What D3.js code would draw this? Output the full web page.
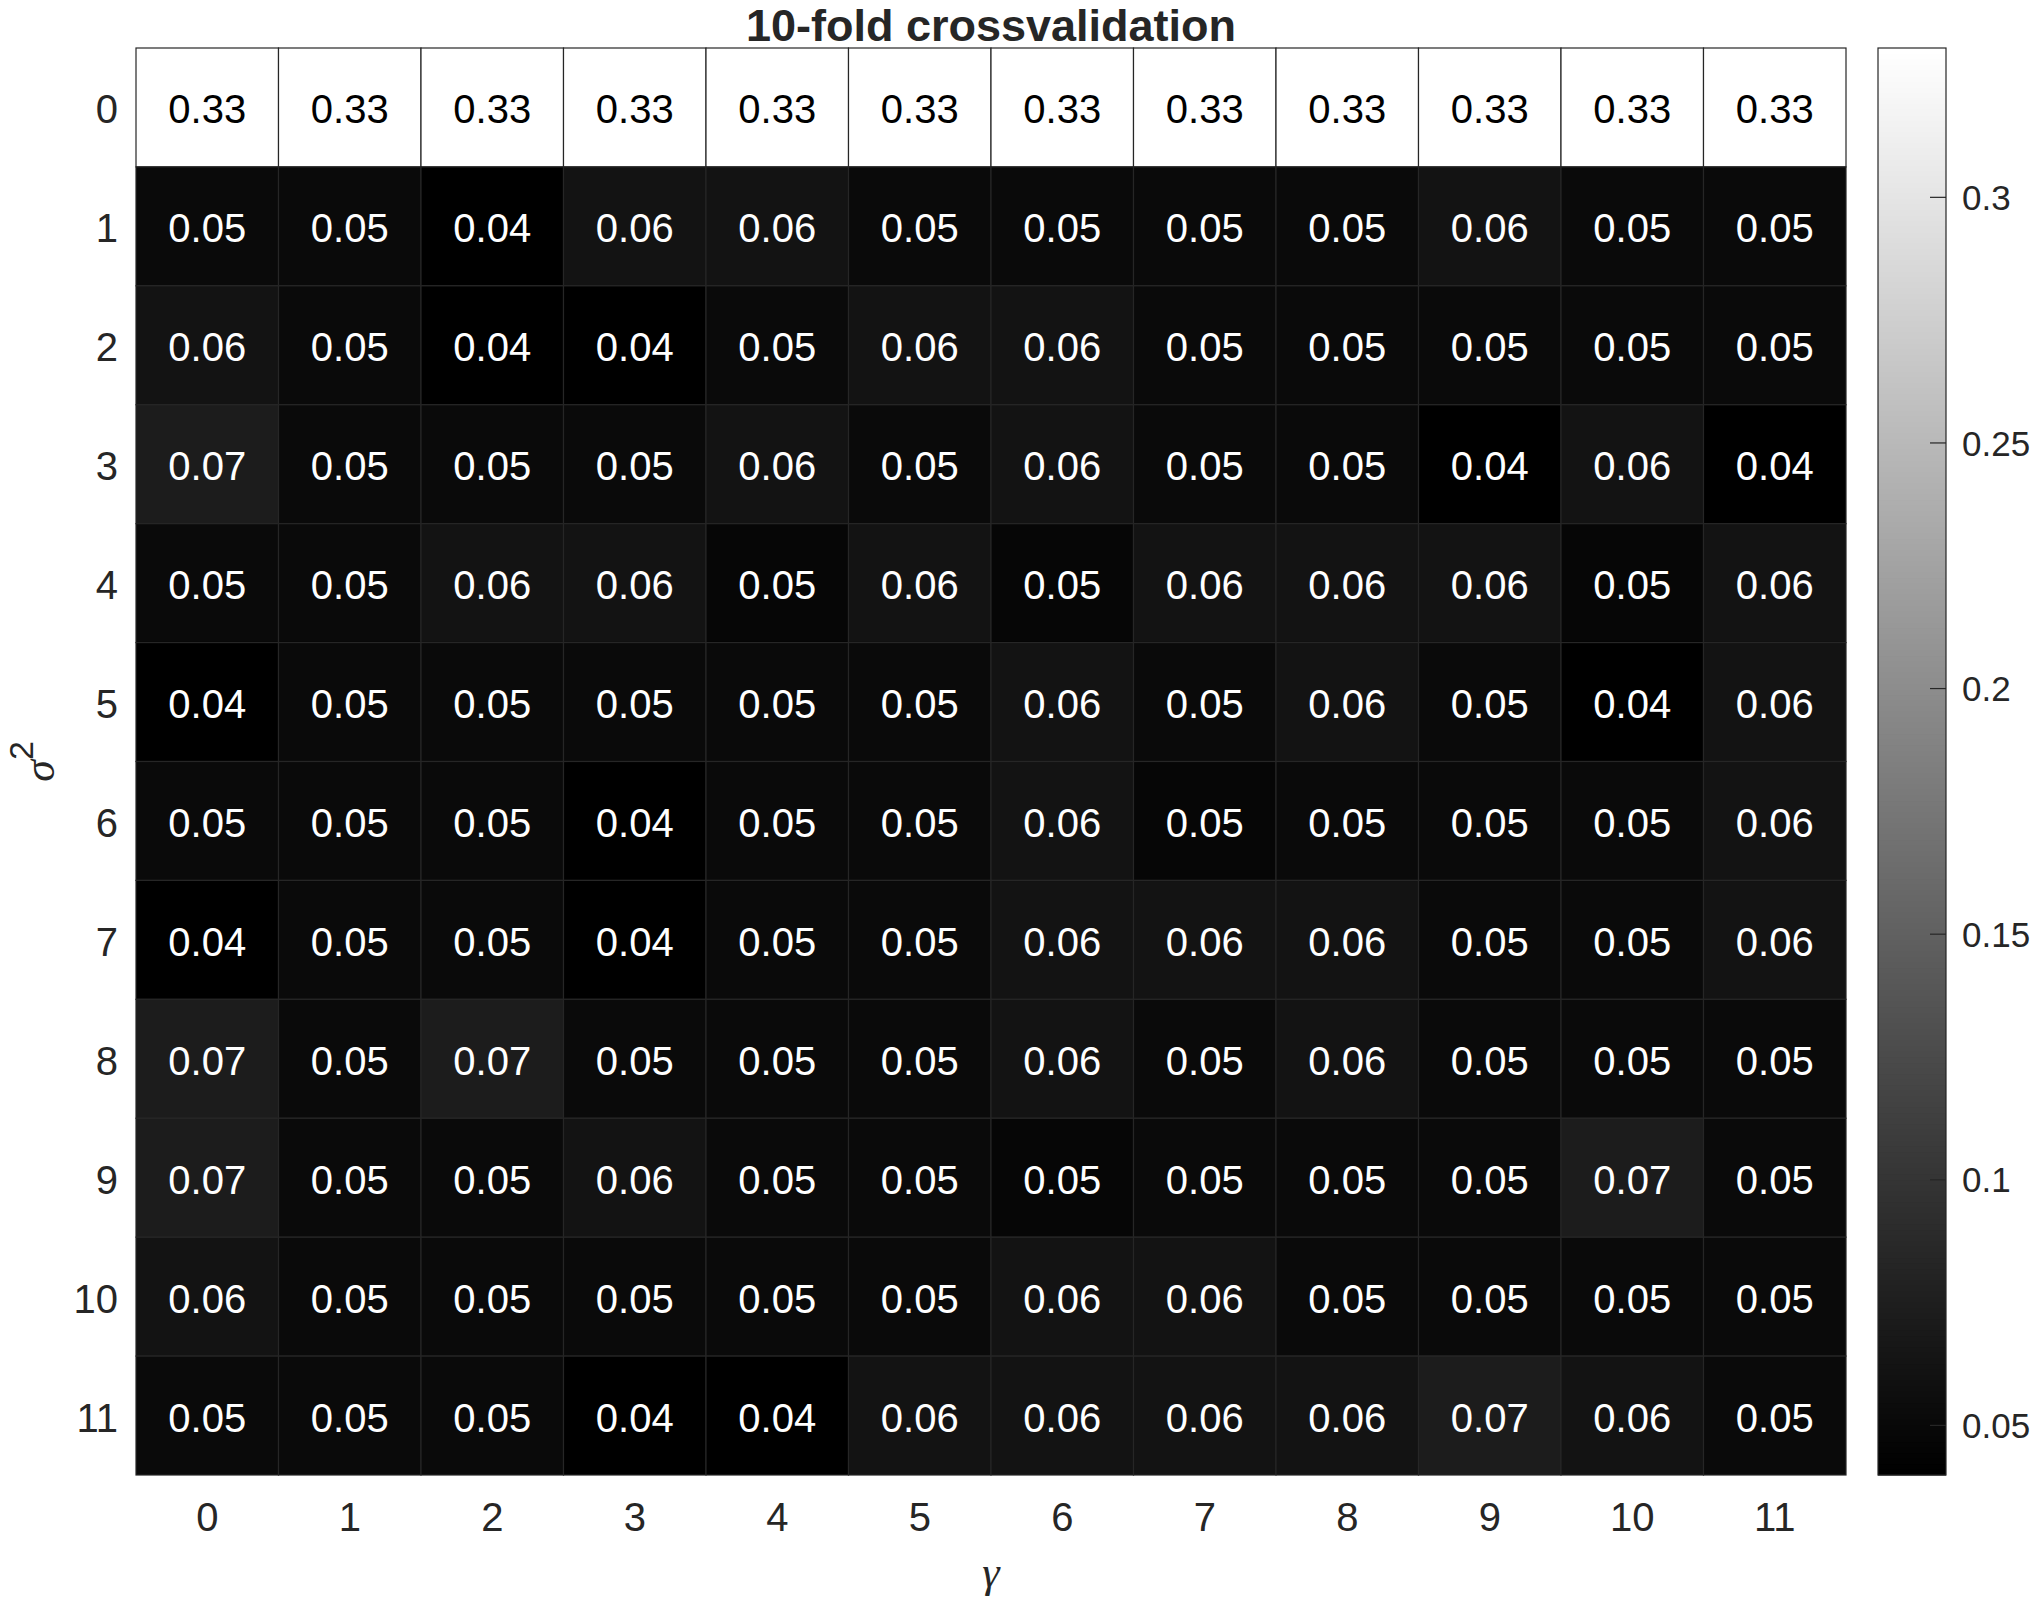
<!DOCTYPE html>
<html>
<head>
<meta charset="utf-8">
<script src="https://cdn.jsdelivr.net/npm/d3@7"></script>
<style>
  body { margin: 0; background: #fff; }
  svg text { font-family: "Liberation Sans", Arial, Helvetica, sans-serif; }
</style>
</head>
<body>
<svg id="chart" width="2035" height="1601"></svg>
<script>
// Tick labels for both axes
var gammaLabels = ['0', '1', '2', '3', '4', '5', '6', '7', '8', '9', '10', '11'];
var sigmaLabels = ['0', '1', '2', '3', '4', '5', '6', '7', '8', '9', '10', '11'];

// Cross-validation error, one array per sigma^2 row
var row0  = [0.3303, 0.3303, 0.3303, 0.3303, 0.3303, 0.3303, 0.3303, 0.3303, 0.3303, 0.3303, 0.3303, 0.3303];
var row1  = [0.0510, 0.0510, 0.0398, 0.0612, 0.0612, 0.0510, 0.0510, 0.0510, 0.0510, 0.0612, 0.0510, 0.0510];
var row2  = [0.0612, 0.0510, 0.0398, 0.0398, 0.0510, 0.0612, 0.0612, 0.0510, 0.0510, 0.0510, 0.0510, 0.0510];
var row3  = [0.0714, 0.0510, 0.0510, 0.0510, 0.0612, 0.0510, 0.0612, 0.0510, 0.0510, 0.0398, 0.0612, 0.0398];
var row4  = [0.0510, 0.0510, 0.0612, 0.0612, 0.0470, 0.0612, 0.0470, 0.0612, 0.0612, 0.0612, 0.0470, 0.0612];
var row5  = [0.0398, 0.0510, 0.0510, 0.0510, 0.0510, 0.0510, 0.0612, 0.0510, 0.0612, 0.0510, 0.0398, 0.0612];
var row6  = [0.0510, 0.0510, 0.0510, 0.0398, 0.0510, 0.0510, 0.0612, 0.0470, 0.0510, 0.0510, 0.0510, 0.0612];
var row7  = [0.0398, 0.0510, 0.0510, 0.0398, 0.0510, 0.0510, 0.0612, 0.0612, 0.0612, 0.0510, 0.0510, 0.0612];
var row8  = [0.0714, 0.0510, 0.0714, 0.0510, 0.0510, 0.0510, 0.0612, 0.0510, 0.0612, 0.0510, 0.0510, 0.0510];
var row9  = [0.0714, 0.0510, 0.0510, 0.0612, 0.0510, 0.0510, 0.0470, 0.0510, 0.0510, 0.0510, 0.0714, 0.0510];
var row10 = [0.0612, 0.0510, 0.0510, 0.0510, 0.0510, 0.0510, 0.0612, 0.0612, 0.0510, 0.0510, 0.0510, 0.0510];
var row11 = [0.0510, 0.0510, 0.0510, 0.0398, 0.0398, 0.0612, 0.0612, 0.0612, 0.0612, 0.0714, 0.0612, 0.0510];

// Colorbar tick values
var cbarTicks = [0.05, 0.1, 0.15, 0.2, 0.25, 0.3];

var rows = [row0, row1, row2, row3, row4, row5, row6, row7, row8, row9, row10, row11];

// flatten into cells
var cells = [];
rows.forEach(function(r, i) {
  r.forEach(function(v, j) {
    cells.push({ gamma: gammaLabels[j], sigma: sigmaLabels[i], value: v });
  });
});

var svg = d3.select('#chart');
var textCol = '#262626';

// plot box (window.top is reserved, so no plain "top")
var pLeft = 136, pRight = 1846, pTop = 48, pBottom = 1475;

var x = d3.scaleBand().domain(gammaLabels).range([pLeft, pRight]);
var y = d3.scaleBand().domain(sigmaLabels).range([pTop, pBottom]);

var ext = d3.extent(cells, function(d) { return d.value; });
var color = d3.scaleLinear().domain(ext).range(['#000000', '#ffffff']);
var fmt = d3.format('.2f');

// Heatmap cells
svg.append('g')
  .selectAll('rect')
  .data(cells)
  .join('rect')
    .attr('x', function(d) { return x(d.gamma); })
    .attr('y', function(d) { return y(d.sigma); })
    .attr('width', x.bandwidth())
    .attr('height', y.bandwidth())
    .attr('fill', function(d) { return color(d.value); })
    .attr('stroke', '#262626')
    .attr('stroke-width', 1.2);

// Cell labels
svg.append('g')
  .selectAll('text')
  .data(cells)
  .join('text')
    .attr('x', function(d) { return x(d.gamma) + x.bandwidth() / 2; })
    .attr('y', function(d) { return y(d.sigma) + y.bandwidth() / 2; })
    .attr('dy', '0.4em')
    .attr('text-anchor', 'middle')
    .style('font-size', '40px')
    .attr('fill', function(d) { return d.value > 0.19 ? '#000' : '#fff'; })
    .text(function(d) { return fmt(d.value); });

// Axes
var xAxis = svg.append('g')
  .attr('transform', 'translate(0,' + pBottom + ')')
  .call(d3.axisBottom(x).tickSize(0).tickPadding(28));
var yAxis = svg.append('g')
  .attr('transform', 'translate(' + pLeft + ',0)')
  .call(d3.axisLeft(y).tickSize(0).tickPadding(18));
[xAxis, yAxis].forEach(function(a) {
  a.select('.domain').remove();
  a.selectAll('text')
    .style('font-size', '40px')
    .style('font-family', '"Liberation Sans", Arial, sans-serif')
    .attr('fill', textCol);
});
yAxis.selectAll('text').attr('dy', '0.4em');

// Title
svg.append('text')
  .attr('x', (pLeft + pRight) / 2)
  .attr('y', 41)
  .attr('text-anchor', 'middle')
  .style('font-size', '45px')
  .style('font-weight', 'bold')
  .attr('fill', textCol)
  .text('10-fold crossvalidation');

// x label: gamma
svg.append('text')
  .attr('x', (pLeft + pRight) / 2)
  .attr('y', 1587)
  .attr('text-anchor', 'middle')
  .style('font-family', '"Liberation Serif", "Times New Roman", serif')
  .style('font-style', 'italic')
  .style('font-size', '44px')
  .attr('fill', textCol)
  .text('\u03b3');

// y label: sigma^2
var yl = svg.append('text')
  .attr('transform', 'translate(54,' + (pTop + pBottom) / 2 + ') rotate(-90)')
  .attr('text-anchor', 'middle')
  .attr('fill', textCol);
yl.append('tspan')
  .style('font-family', '"Liberation Serif", "Times New Roman", serif')
  .style('font-style', 'italic')
  .style('font-size', '44px')
  .text('\u03c3');
yl.append('tspan')
  .attr('dy', -21)
  .style('font-size', '34px')
  .text('2');

// Colorbar
var cbLeft = 1878, cbRight = 1946;
var cy = d3.scaleLinear().domain(ext).range([pBottom, pTop]);
var steps = d3.range(256).map(function(i) {
  return ext[0] + (ext[1] - ext[0]) * i / 256;
});
var stepH = (pBottom - pTop) / 256;
svg.append('g')
  .selectAll('rect')
  .data(steps)
  .join('rect')
    .attr('x', cbLeft)
    .attr('width', cbRight - cbLeft)
    .attr('y', function(v) { return cy(v) - stepH - 0.5; })
    .attr('height', stepH + 1)
    .attr('fill', function(v) { return color(v + (ext[1] - ext[0]) / 512); });
svg.append('rect')
  .attr('x', cbLeft)
  .attr('y', pTop)
  .attr('width', cbRight - cbLeft)
  .attr('height', pBottom - pTop)
  .attr('fill', 'none')
  .attr('stroke', '#262626')
  .attr('stroke-width', 1.2);

var cAxis = svg.append('g')
  .attr('transform', 'translate(' + cbRight + ',0)')
  .call(d3.axisRight(cy).tickValues(cbarTicks).tickSize(-16).tickPadding(16)
    .tickFormat(d3.format('')));
cAxis.select('.domain').remove();
cAxis.selectAll('line').attr('stroke', '#262626').attr('stroke-width', 1.2);
cAxis.selectAll('text')
  .style('font-size', '35px')
  .style('font-family', '"Liberation Sans", Arial, sans-serif')
  .attr('fill', textCol)
  .attr('dy', '0.36em');
</script>
</body>
</html>
